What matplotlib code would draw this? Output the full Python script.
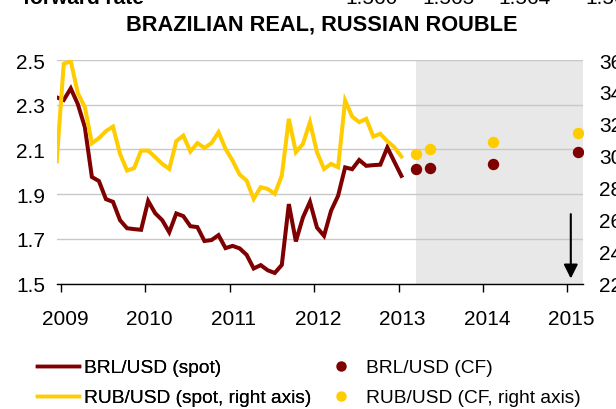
import numpy as np
import matplotlib
matplotlib.use("Agg")
import matplotlib.pyplot as plt
import matplotlib.transforms as mtransforms
from matplotlib.lines import Line2D

plt.rcParams['font.family'] = ['Liberation Sans', 'DejaVu Sans']

# monthly spot data, first observation at end of 2008
start_year = 2008.95
brl_spot = [2.333, 2.321, 2.373, 2.303, 2.200, 1.977, 1.959, 1.878, 1.866, 1.784,
            1.748, 1.744, 1.741, 1.870, 1.815, 1.784, 1.730, 1.814, 1.802, 1.757,
            1.753, 1.691, 1.695, 1.717, 1.659, 1.669, 1.658, 1.629, 1.568, 1.583,
            1.560, 1.548, 1.584, 1.856, 1.689, 1.796, 1.866, 1.751, 1.714, 1.826,
            1.893, 2.020, 2.012, 2.053, 2.027, 2.030, 2.032, 2.109, 2.045, 1.982]
rub_spot = [29.65, 35.76, 35.93, 33.93, 33.05, 30.79, 31.11, 31.55, 31.83, 30.12,
            29.08, 29.23, 30.33, 30.33, 29.92, 29.50, 29.18, 30.92, 31.27, 30.27,
            30.80, 30.50, 30.80, 31.48, 30.44, 29.70, 28.83, 28.45, 27.31, 28.04,
            27.93, 27.62, 28.77, 32.32, 30.23, 30.75, 32.11, 30.23, 29.18, 29.50,
            29.29, 33.46, 32.46, 32.11, 32.32, 31.21, 31.38, 30.92, 30.54, 29.96]

# Consensus Forecasts
cf_dates = [2013.21, 2013.37, 2014.12, 2015.13]
brl_cf = [2.012, 2.015, 2.033, 2.087]
rub_cf = [30.12, 30.44, 30.86, 31.42]
forecast_start = 2013.206

years = [2009, 2010, 2011, 2012, 2013, 2014, 2015]
left_ticks = [1.5, 1.7, 1.9, 2.1, 2.3, 2.5]
right_ticks = [22, 24, 26, 28, 30, 32, 34, 36]

BROWN = "#7f0000"
YELLOW = "#ffcc00"
FS = 15

W, H = 616, 410
fig = plt.figure(figsize=(W / 100, H / 100), dpi=100)
ax = fig.add_axes([56.7 / W, 1 - 284.7 / H, (582.7 - 56.7) / W, (284.7 - 61) / H])
ax2 = ax.twinx()

dates = start_year + np.arange(len(brl_spot)) / 12

ax.axvspan(forecast_start, 2016, color="#e8e8e8", lw=0, zorder=0)
ax.set_axisbelow(True)
ax.grid(axis="y", color="#c8c8c8", lw=1)
ax.plot(dates, brl_spot, color=BROWN, lw=2.9, solid_joinstyle="miter", zorder=3)
ax.plot(cf_dates, brl_cf, "o", color=BROWN, ms=7.2, zorder=3)
ax2.plot(dates, rub_spot, color=YELLOW, lw=2.9, solid_joinstyle="miter")
ax2.plot(cf_dates, rub_cf, "o", color=YELLOW, ms=7.2)

ax.set_xlim(start_year, 2015.181)
ax.set_ylim(1.5, 2.5)
ax2.set_ylim(22, 36)

ax.set_xticks(years)
ax.set_xticklabels([str(y) for y in years])
ax.set_yticks(left_ticks)
ax.set_yticklabels([f"{v:.1f}" for v in left_ticks])
ax2.set_yticks(right_ticks)
ax2.set_yticklabels([str(v) for v in right_ticks])

ax.tick_params(axis="x", direction="out", length=6, width=1, color="black",
               pad=12, labelsize=FS)
ax.tick_params(axis="y", length=0, pad=8.2, labelsize=FS)
ax2.tick_params(axis="y", length=0, pad=12, labelsize=FS)
shift = mtransforms.ScaledTranslation(4 / 100, 0, fig.dpi_scale_trans)
for lbl in ax.get_xticklabels():
    lbl.set_transform(lbl.get_transform() + shift)

for a in (ax, ax2):
    for side in ("left", "right", "top"):
        a.spines[side].set_visible(False)
ax2.spines["bottom"].set_visible(False)
ax.spines["bottom"].set_linewidth(1)

# arrow in forecast area
ax.annotate("", xy=(2015.04, 1.523), xytext=(2015.04, 1.811),
            arrowprops=dict(arrowstyle="-|>,head_length=0.4,head_width=0.2",
                            color="black", lw=1.5, mutation_scale=21,
                            shrinkA=0, shrinkB=0), zorder=5)

fig.text(322 / W, 1 - 31 / H, "BRAZILIAN REAL, RUSSIAN ROUBLE", ha="center",
         va="baseline", fontsize=15.7, fontweight="bold")

# clipped row of the table above
fig.text(144 / W, 1 - 4 / H, "forward rate", ha="right", va="baseline",
         fontsize=FS, fontweight="bold")
for xp, txt in zip([345, 422, 498, 585], ["1.560", "1.565", "1.564", "1.565"]):
    fig.text(xp / W, 1 - 4 / H, txt, ha="left", va="baseline", fontsize=FS)

h1 = [Line2D([], [], color=BROWN, lw=2.5), Line2D([], [], color=YELLOW, lw=2.5)]
h2 = [Line2D([], [], color=BROWN, marker="o", ls="none", ms=6.5),
      Line2D([], [], color=YELLOW, marker="o", ls="none", ms=6.5)]
leg_kw = dict(loc="center left", frameon=False, fontsize=13.8, borderpad=0,
              borderaxespad=0, handlelength=2.2, handletextpad=0.23,
              labelspacing=0.66)
leg1 = fig.legend(h1, ["BRL/USD (spot)", "RUB/USD (spot, right axis)"],
                  bbox_to_anchor=(37.3 / W, 1 - 383.7 / H), **leg_kw)
fig.legend(h2, ["BRL/USD (CF)", "RUB/USD (CF, right axis)"],
           bbox_to_anchor=(319.7 / W, 1 - 383.7 / H), **leg_kw)
fig.add_artist(leg1)

fig.savefig("out.png", dpi=100)
